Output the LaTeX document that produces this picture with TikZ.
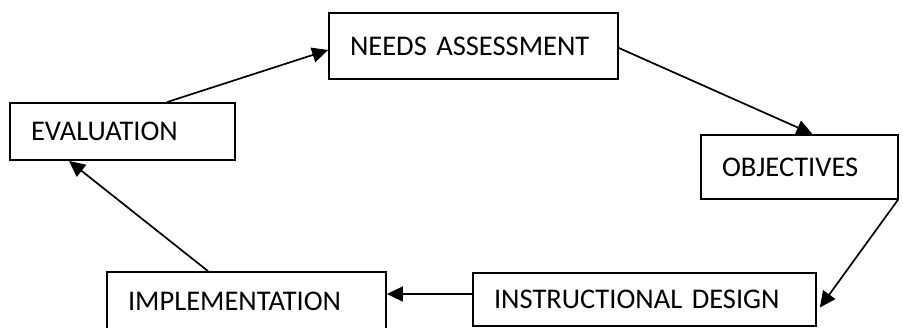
\documentclass[tikz,border=0pt]{standalone}
\usepackage{fontspec}
\setmainfont{Carlito}
\usetikzlibrary{arrows.meta,calc}
\begin{document}
\begin{tikzpicture}[x=1pt,y=-1pt,
  box/.style={draw=black,line width=1.8pt,fill=white,rectangle,inner xsep=21pt,inner ysep=0pt,
    align=left,font=\fontsize{28.5}{32}\selectfont,anchor=center},
  link/.style={draw=black,line width=1.7pt,-{Triangle[length=16pt,width=15pt]}}]
\useasboundingbox (0,0) rectangle (903,327);
\begin{scope}
\clip (0,0) rectangle (903,327);
\node[box,text width=247pt,minimum height=66pt] (needs) at (473.5,46) {NEEDS ASSESSMENT};
\node[box,text width=183pt,minimum height=57pt] (eval) at (122.5,131.5) {EVALUATION};
\node[box,text width=155pt,minimum height=64pt] (obj) at (799.5,167) {OBJECTIVES};
\node[box,text width=301pt,minimum height=53pt] (instr) at (644.5,299.5) {INSTRUCTIONAL DESIGN};
\node[box,text width=237pt,minimum height=58pt] (impl) at (246.5,301) {IMPLEMENTATION};
\end{scope}
\coordinate (a1) at ($(eval.north)+(44.5,0)$);
\coordinate (a2) at ($(needs.west)+(0,4)$);
\coordinate (b1) at ($(needs.east)+(0,2)$);
\coordinate (b2) at ($(obj.north)+(13,0)$);
\coordinate (c1) at ($(obj.south east)+(-1,0)$);
\coordinate (c2) at ($(instr.east)+(3,8)$);
\coordinate (d1) at ($(instr.west)+(0,-5.5)$);
\coordinate (d2) at ($(impl.east)+(0,-7)$);
\coordinate (e1) at ($(impl.north)+(-38.5,0)$);
\coordinate (e2) at ($(eval.south)+(-53.5,0)$);
\draw[link] (a1) -- (a2);
\draw[link] (b1) -- (b2);
\draw[link] (c1) -- (c2);
\draw[link] (d1) -- (d2);
\draw[link] (e1) -- (e2);
\end{tikzpicture}
\end{document}
